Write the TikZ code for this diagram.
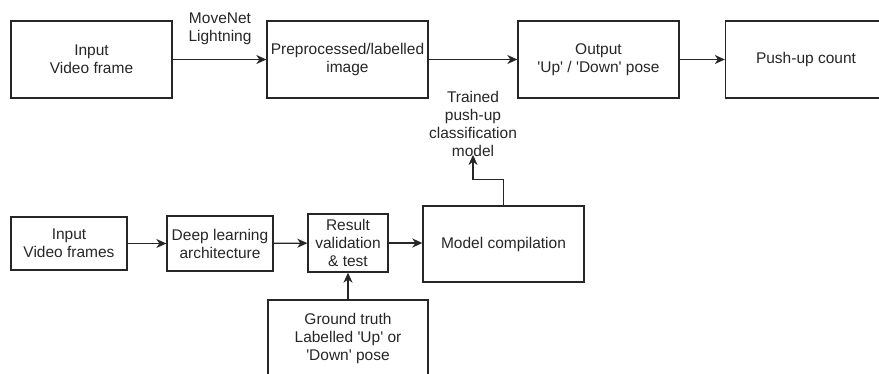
\documentclass[tikz,border=0pt]{standalone}
\usepackage{fontspec}
\setmainfont{Liberation Sans}
\usetikzlibrary{arrows.meta}
\newcommand{\sq}{\textquotesingle}
\begin{document}
\begin{tikzpicture}[x=1pt,y=-1pt,
  box/.style={draw=black!85,line width=1.3pt,rectangle,align=center,text=black!85,inner sep=0pt},
  lbl/.style={align=center,text=black!85,inner sep=0pt},
  arr/.style={draw=black!85,line width=1.3pt,-{Stealth[length=10pt,width=9pt,inset=3pt]}},
  font=\fontsize{15.5}{18}\selectfont]
\useasboundingbox (0,0) rectangle (879,374);
\clip (0,0) rectangle (879,374);
\node[box,minimum width=161pt,minimum height=77pt] (in1) at (91.5,59.5) {Input\\Video frame};
\node[box,minimum width=161pt,minimum height=77pt] (pre) at (347.5,59.5) {Preprocessed/labelled\\image};
\node[box,minimum width=161pt,minimum height=77pt] (out) at (598.5,59.5) {Output\\\sq Up\sq{} / \sq Down\sq{} pose};
\node[box,minimum width=161pt,minimum height=77pt] (cnt) at (806,59.5) {Push-up count};
\node[lbl] (mv) at (220,29) {MoveNet\\Lightning};
\node[box,minimum width=116pt,minimum height=53pt] (in2) at (69,243.5) {Input\\Video frames};
\node[box,minimum width=106pt,minimum height=55pt] (dl) at (220,243.5) {Deep learning\\architecture};
\node[box,minimum width=80pt,minimum height=58pt] (rv) at (348,243) {Result\\validation\\\& test};
\node[box,minimum width=161pt,minimum height=76pt] (mc) at (503.5,244) {Model compilation};
\node[box,minimum width=160pt,minimum height=77pt] (gt) at (348,338.5) {Ground truth\\Labelled \sq Up\sq{} or\\\sq Down\sq{} pose};
\node[lbl] (tr) at (473,124) {Trained\\push-up\\classification\\model};
\draw[arr] (in1) -- (pre);
\draw[arr] (pre) -- (out);
\draw[arr] (out) -- (cnt);
\draw[arr] (in2) -- (dl);
\draw[arr] (dl) -- (rv);
\draw[arr] (rv.east) -- (rv.east -| mc.west);
\draw[arr] (gt) -- (rv);
\draw[arr] (mc.north) -- ++(0,-26) -| ([yshift=2pt]tr.south);
\end{tikzpicture}
\end{document}
